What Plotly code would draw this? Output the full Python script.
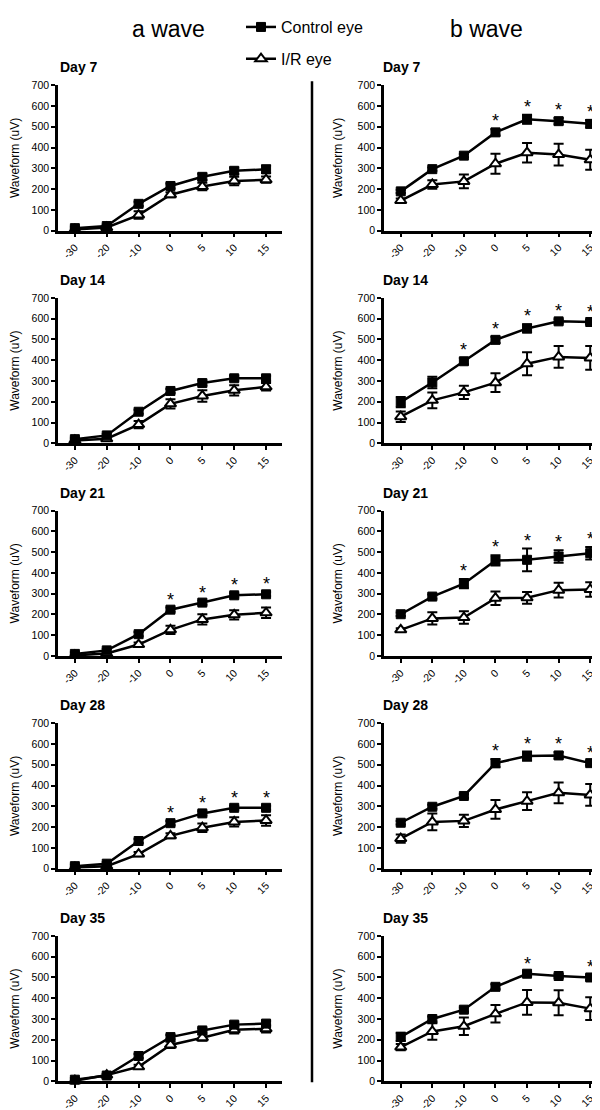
import plotly.graph_objects as go
from plotly.subplots import make_subplots

# ---------------- data ----------------
times = ["-30", "-20", "-10", "0", "5", "10", "15"]
days = ["Day 7", "Day 14", "Day 21", "Day 28", "Day 35"]

# a wave (control / I/R, means and SEM)
a_ctrl_d7 = [12, 22, 129, 215, 259, 288, 295]
a_ir_d7 = [5, 15, 75, 173, 212, 239, 245]
a_ctrl_d14 = [20, 38, 152, 252, 290, 313, 313]
a_ir_d14 = [14, 22, 90, 190, 228, 255, 272]
a_ctrl_d21 = [10, 27, 105, 223, 257, 292, 297]
a_ir_d21 = [3, 12, 55, 126, 176, 198, 208]
a_ctrl_d28 = [12, 24, 133, 219, 266, 293, 293]
a_ir_d28 = [5, 12, 70, 158, 197, 225, 232]
a_ctrl_d35 = [8, 28, 122, 213, 245, 273, 278]
a_ir_d35 = [3, 30, 70, 175, 210, 248, 253]

a_ctrl_err_d7 = [8, 8, 10, 12, 15, 15, 18]
a_ir_err_d7 = [5, 8, 18, 12, 18, 20, 15]
a_ctrl_err_d14 = [8, 8, 10, 10, 12, 12, 12]
a_ir_err_d14 = [5, 8, 18, 22, 28, 25, 18]
a_ctrl_err_d21 = [8, 8, 10, 10, 10, 10, 10]
a_ir_err_d21 = [4, 6, 10, 20, 25, 22, 25]
a_ctrl_err_d28 = [8, 8, 10, 10, 10, 10, 10]
a_ir_err_d28 = [4, 5, 10, 12, 20, 22, 25]
a_ctrl_err_d35 = [8, 8, 10, 10, 10, 12, 12]
a_ir_err_d35 = [4, 6, 10, 15, 15, 18, 18]

# b wave
b_ctrl_d7 = [189, 296, 361, 473, 536, 527, 514]
b_ir_d7 = [145, 222, 237, 322, 375, 366, 341]
b_ctrl_d14 = [198, 293, 395, 498, 553, 587, 584]
b_ir_d14 = [128, 207, 245, 292, 383, 416, 411]
b_ctrl_d21 = [201, 286, 348, 460, 463, 479, 495]
b_ir_d21 = [126, 181, 185, 278, 280, 317, 320]
b_ctrl_d28 = [221, 298, 350, 508, 542, 545, 508]
b_ir_d28 = [145, 225, 230, 285, 325, 365, 355]
b_ctrl_d35 = [214, 300, 345, 455, 518, 507, 500]
b_ir_d35 = [165, 240, 265, 325, 380, 378, 350]

b_ctrl_err_d7 = [8, 8, 8, 15, 22, 15, 18]
b_ir_err_d7 = [10, 20, 33, 48, 47, 52, 48]
b_ctrl_err_d14 = [25, 28, 15, 15, 20, 10, 10]
b_ir_err_d14 = [25, 38, 32, 45, 55, 52, 57]
b_ctrl_err_d21 = [8, 10, 22, 25, 55, 30, 30]
b_ir_err_d21 = [8, 30, 30, 33, 28, 35, 35]
b_ctrl_err_d28 = [8, 10, 10, 20, 22, 15, 10]
b_ir_err_d28 = [20, 40, 30, 45, 43, 50, 52]
b_ctrl_err_d35 = [20, 12, 10, 12, 10, 10, 12]
b_ir_err_d35 = [15, 40, 42, 42, 60, 60, 55]

# significant time points (asterisks)
a_sig = [[], [], ["0", "5", "10", "15"], ["0", "5", "10", "15"], []]
b_sig = [["0", "5", "10", "15"], ["-10", "0", "5", "10", "15"],
         ["-10", "0", "5", "10", "15"], ["0", "5", "10", "15"], ["5", "15"]]

a_ctrl = [a_ctrl_d7, a_ctrl_d14, a_ctrl_d21, a_ctrl_d28, a_ctrl_d35]
a_ir = [a_ir_d7, a_ir_d14, a_ir_d21, a_ir_d28, a_ir_d35]
a_ctrl_err = [a_ctrl_err_d7, a_ctrl_err_d14, a_ctrl_err_d21, a_ctrl_err_d28, a_ctrl_err_d35]
a_ir_err = [a_ir_err_d7, a_ir_err_d14, a_ir_err_d21, a_ir_err_d28, a_ir_err_d35]
b_ctrl = [b_ctrl_d7, b_ctrl_d14, b_ctrl_d21, b_ctrl_d28, b_ctrl_d35]
b_ir = [b_ir_d7, b_ir_d14, b_ir_d21, b_ir_d28, b_ir_d35]
b_ctrl_err = [b_ctrl_err_d7, b_ctrl_err_d14, b_ctrl_err_d21, b_ctrl_err_d28, b_ctrl_err_d35]
b_ir_err = [b_ir_err_d7, b_ir_err_d14, b_ir_err_d21, b_ir_err_d28, b_ir_err_d35]

# ---------------- layout constants ----------------
W, H = 600, 1110
FONT = "Liberation Sans, Arial, Helvetica, sans-serif"
LEFT_X = (50 / W, 274 / W)
RIGHT_X = (376 / W, 598 / W)
ROW_STEP = 215.0
Y0_PX = 219.0
YTOP_PX = 72.0

fig = make_subplots(rows=5, cols=2)

def add_panel(row, col, ctrl, ctrl_err, ir, ir_err, sig, show_legend):
    fig.add_trace(go.Scatter(
        x=times, y=ir, mode="lines+markers", name="I/R eye",
        line=dict(color="black", width=2.5),
        marker=dict(symbol="triangle-up", size=10, color="white",
                    line=dict(color="black", width=2)),
        error_y=dict(type="data", array=ir_err, visible=True,
                     color="black", thickness=2, width=5),
        cliponaxis=False, showlegend=show_legend, legendrank=2,
        legendgroup="ir"), row=row, col=col)
    fig.add_trace(go.Scatter(
        x=times, y=ctrl, mode="lines+markers", name="Control eye",
        line=dict(color="black", width=2.5),
        marker=dict(symbol="square", size=9, color="black",
                    line=dict(color="black", width=1)),
        error_y=dict(type="data", array=ctrl_err, visible=True,
                     color="black", thickness=2, width=5),
        cliponaxis=False, showlegend=show_legend, legendrank=1,
        legendgroup="ctrl"), row=row, col=col)
    idx = (row - 1) * 2 + col
    xr = "x" if idx == 1 else f"x{idx}"
    yr = "y" if idx == 1 else f"y{idx}"
    for t in sig:
        i = times.index(t)
        # category axis: position by index
        fig.add_annotation(x=i, y=ctrl[i] + ctrl_err[i] + 62, xref=xr, yref=yr,
                           text="*", showarrow=False, yshift=-5,
                           font=dict(family=FONT, size=18, color="black"))

for k in range(5):
    add_panel(k + 1, 1, a_ctrl[k], a_ctrl_err[k], a_ir[k], a_ir_err[k], a_sig[k], k == 0)
    add_panel(k + 1, 2, b_ctrl[k], b_ctrl_err[k], b_ir[k], b_ir_err[k], b_sig[k], False)

axis_common = dict(showline=True, linecolor="black", linewidth=2.5, mirror=False,
                   ticks="outside", ticklen=4, tickwidth=2, tickcolor="black",
                   showgrid=False, zeroline=False,
                   tickfont=dict(family=FONT, size=10.5, color="black"))

for k in range(5):
    y0 = 1 - (Y0_PX + ROW_STEP * k) / H
    y1 = 1 - (YTOP_PX + ROW_STEP * k) / H
    for c in (1, 2):
        idx = k * 2 + c
        xname = "xaxis" if idx == 1 else f"xaxis{idx}"
        yname = "yaxis" if idx == 1 else f"yaxis{idx}"
        fig.layout[xname].update(domain=LEFT_X if c == 1 else RIGHT_X,
                                 type="category", range=[-0.53, 6.5],
                                 tickangle=-45, **axis_common)
        fig.layout[yname].update(domain=[y0, y1], range=[0, 700], tick0=0, dtick=100,
                                 title=dict(text="Waveform (uV)", standoff=13,
                                            font=dict(family=FONT, size=12, color="black")),
                                 **axis_common)
        # panel title
        fig.add_annotation(x=(50 if c == 1 else 373) / W,
                           y=1 - (54 + ROW_STEP * k) / H,
                           xref="paper", yref="paper", xanchor="left", yanchor="middle",
                           text=f"<b>{days[k]}</b>", showarrow=False,
                           font=dict(family=FONT, size=14, color="black"))

# column titles
fig.add_annotation(x=160 / W, y=1 - 15 / H, xref="paper", yref="paper",
                   text="a wave", showarrow=False, xanchor="center", yanchor="middle",
                   font=dict(family=FONT, size=23, color="black"))
fig.add_annotation(x=478 / W, y=1 - 15 / H, xref="paper", yref="paper",
                   text="b wave", showarrow=False, xanchor="center", yanchor="middle",
                   font=dict(family=FONT, size=23, color="black"))

# vertical divider
fig.add_shape(type="line", xref="paper", yref="paper",
              x0=304 / W, x1=304 / W, y0=1 - 1080 / H, y1=1 - 68 / H,
              line=dict(color="black", width=2.5))

fig.update_layout(
    width=W, height=H, autosize=False,
    margin=dict(l=0, r=0, t=0, b=0),
    paper_bgcolor="white", plot_bgcolor="white",
    font=dict(family=FONT, color="black"),
    legend=dict(x=233 / W, y=1 + 4 / H, xanchor="left", yanchor="top",
                font=dict(family=FONT, size=16, color="black"),
                bgcolor="rgba(0,0,0,0)", tracegroupgap=8, itemwidth=30),
)

fig.write_html("out.html")
